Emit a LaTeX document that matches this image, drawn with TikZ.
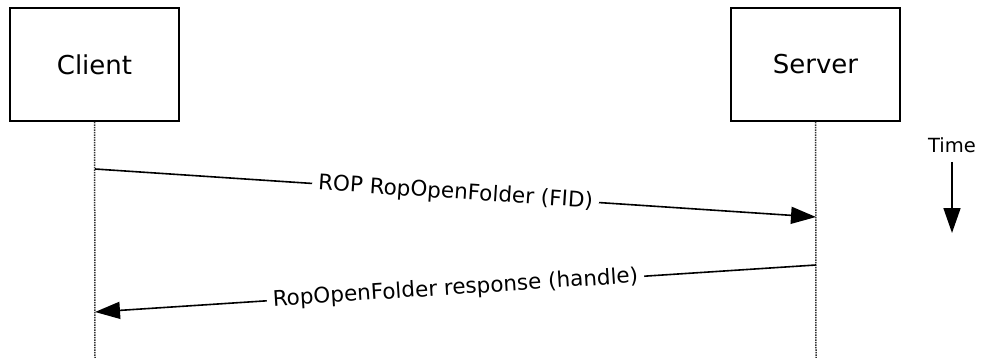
\documentclass[tikz,border=0pt]{standalone}
\usepackage{fontspec}
\setmainfont{DejaVu Sans}
\usetikzlibrary{arrows.meta}

\begin{document}
\begin{tikzpicture}[x=1pt, y=-1pt]
        \tikzstyle Actor Box=[draw, line width=1.7pt, minimum width=169pt, minimum height=113pt, font=\fontsize{26}{30}\selectfont]
        \tikzstyle Life Line=[densely dotted, line width=1.5pt, color=black!80]
        \tikzstyle Message Line=[line width=1.6pt, -{Triangle[length=25pt, width=17pt]}]
        \tikzstyle Message Label=[fill=white, inner xsep=6pt, inner ysep=2pt, sloped, font=\fontsize{21.5}{26}\selectfont]
        \tikzstyle Time Label=[inner sep=0pt, font=\fontsize{19.5}{24}\selectfont]

        \useasboundingbox (0, 0) rectangle (981, 358);
        \node[Actor Box] (client) at (94.5, 64.5) {Client};
        \node[Actor Box] (server) at (815.5, 64.5) {Server};
        \coordinate (client end) at (95, 358);
        \coordinate (server end) at (816, 358);
        \draw[Life Line] (client) -- (client end);
        \draw[Life Line] (server) -- (server end);

        \coordinate (open from) at (95, 169);
        \coordinate (open to) at (816, 217);
        \coordinate (reply from) at (816, 265);
        \coordinate (reply to) at (95, 312);
        \draw[Message Line] (open from) -- node[Message Label] (open label) {ROP RopOpenFolder (FID)} (open to);
        \draw[Message Line] (reply from) -- node[Message Label] (reply label) {RopOpenFolder response (handle)} (reply to);

        \node[Time Label, anchor=south] (time) at (952, 153) {Time};
        \coordinate (time end) at (952, 233);
        \draw[Message Line, shorten <=9pt] (time.south) -- (time end);
    \end{tikzpicture}
\end{document}
